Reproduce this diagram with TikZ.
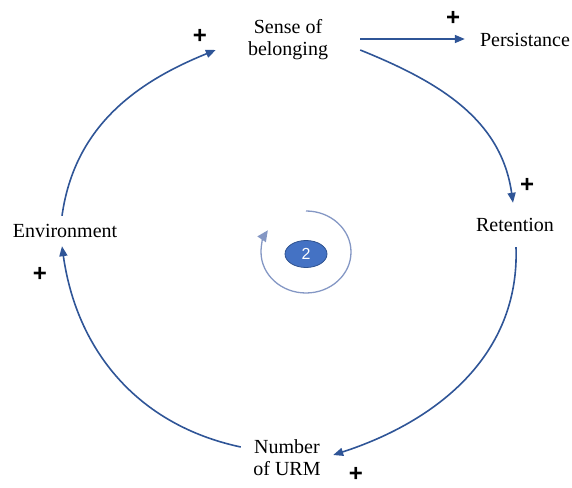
\documentclass[tikz,border=0pt]{standalone}
\usepackage{fontspec}
\setmainfont{Liberation Serif}
\newfontfamily\plusfont{Liberation Sans}
\usetikzlibrary{arrows.meta,shapes.geometric}
\definecolor{loopblue}{HTML}{2F5597}
\definecolor{ringblue}{HTML}{8497C4}
\definecolor{discfill}{HTML}{4472C4}
\definecolor{discline}{HTML}{2F528F}

\begin{document}
\begin{tikzpicture}[
  x=1pt, y=1pt,
  var/.style={align=center, inner sep=0pt, font=\fontsize{20}{22}\selectfont},
  signo/.style={inner sep=0pt, font=\plusfont\bfseries\fontsize{24}{24}\selectfont},
  enlace/.style={-{Triangle[length=10pt,width=8pt]}, line width=1.6pt, draw=loopblue},
  anel/.style={-{Triangle[length=11pt,width=10pt]}, line width=1.3pt, draw=ringblue},
  disco/.style={ellipse, fill=discfill, draw=discline, line width=0.8pt, minimum width=42pt, minimum height=27pt, text=white, font=\plusfont\fontsize{16}{16}\selectfont}
]
\useasboundingbox (0,0) rectangle (572,487);
\node[var, minimum width=144pt] (sense) at (288,447) {Sense of\\belonging};
\node[var, minimum width=120pt] (persist) at (525,447) {Persistance};
\node[var, minimum height=44pt] (retent) at (515,262) {Retention};
\node[var, minimum width=92pt] (urm) at (287,29) {Number\\of URM};
\node[var, minimum height=30pt] (envir) at (65,256) {Environment};
\node[disco] (two) at (306,233) {2};
\node[signo] (p1) at (200,451) {+};
\node[signo] (p2) at (453,469) {+};
\node[signo] (p3) at (527,302) {+};
\node[signo] (p4) at (40,213) {+};
\node[signo] (p5) at (356,13) {+};
\draw[enlace] ([yshift=1pt]sense.east) -- ([yshift=1pt]persist.west);
\draw[enlace] ([yshift=-10pt]sense.east) to[out=-22, in=98] ([xshift=-2pt]retent.north);
\draw[enlace] ([xshift=1pt]retent.south) to[out=-88, in=18] ([yshift=3pt]urm.east);
\draw[enlace] ([yshift=11pt]urm.west) to[out=168, in=-82] ([xshift=-3pt]envir.south);
\draw[enlace] ([xshift=-3pt]envir.north) to[out=82, in=202] ([yshift=-10pt]sense.west);
\draw[anel] ([yshift=43pt]two.center) arc[start angle=90, end angle=-212, x radius=45pt, y radius=41pt];
\end{tikzpicture}
\end{document}
